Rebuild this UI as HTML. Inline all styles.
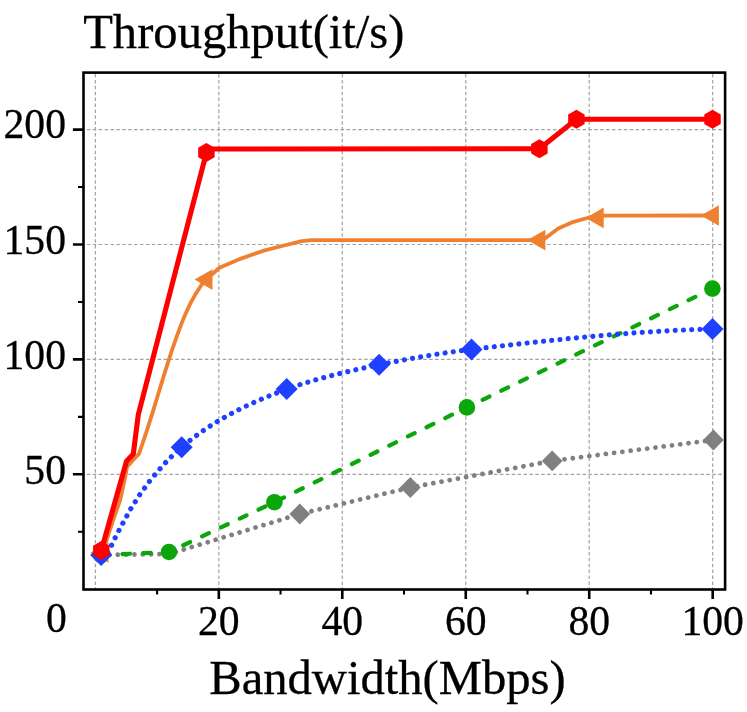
<!DOCTYPE html>
<html><head><meta charset="utf-8"><title>Throughput vs Bandwidth</title>
<style>html,body{margin:0;padding:0;background:#fff}svg{display:block;will-change:transform}text{font-family:"Liberation Serif",serif;fill:#000;stroke:#000;stroke-width:0.3px}.tk{font-size:41.67px}.lb{font-size:48.6px}</style></head>
<body>
<svg width="747" height="712" viewBox="0 0 747 712">
<rect x="0" y="0" width="747" height="712" fill="#fff"/>
<path d="M95.35 589.50V72.60M218.82 589.50V72.60M342.29 589.50V72.60M465.76 589.50V72.60M589.23 589.50V72.60M712.70 589.50V72.60" fill="none" stroke="#a2a2a2" stroke-width="1.2" stroke-dasharray="3.5 2.4" stroke-dashoffset="1.3"/>
<path d="M83.50 474.30H725.10M83.50 359.40H725.10M83.50 244.50H725.10M83.50 129.60H725.10" fill="none" stroke="#a2a2a2" stroke-width="1.2" stroke-dasharray="3.5 2.4" stroke-dashoffset="2.5"/>
<path d="M218.82 589.50v9.6M342.29 589.50v9.6M465.76 589.50v9.6M589.23 589.50v9.6M712.70 589.50v9.6M83.50 474.30h-10.6M83.50 359.40h-10.6M83.50 244.50h-10.6M83.50 129.60h-10.6" fill="none" stroke="#000" stroke-width="2.6"/>
<path d="M157.08 589.50v5M280.55 589.50v5M404.02 589.50v5M527.50 589.50v5M650.97 589.50v5M83.50 531.75h-5.5M83.50 416.85h-5.5M83.50 301.95h-5.5M83.50 187.05h-5.5" fill="none" stroke="#000" stroke-width="2.1"/>
<clipPath id="c"><rect x="83.5" y="72.6" width="641.6" height="516.9"/></clipPath>
<g clip-path="url(#c)">
<path d="M101.10 555.00L169.00 554.00L299.80 514.00L410.30 487.50L552.20 460.90L713.40 440.00" fill="none" stroke="#808080" stroke-width="4.8" stroke-linecap="round" stroke-dasharray="0.01 8.325"/>
<path d="M299.80 503.60L310.20 514.00L299.80 524.40L289.40 514.00Z" fill="#808080"/>
<path d="M410.30 477.10L420.70 487.50L410.30 497.90L399.90 487.50Z" fill="#808080"/>
<path d="M552.20 450.50L562.60 460.90L552.20 471.30L541.80 460.90Z" fill="#808080"/>
<path d="M713.40 429.60L723.80 440.00L713.40 450.40L703.00 440.00Z" fill="#808080"/>
<path d="M101.10 555.00L169.00 552.00L274.40 502.20L466.90 407.40L712.40 288.60" fill="none" stroke="#0aa60a" stroke-width="4.2" stroke-linecap="round" stroke-dasharray="7.5 13.3" stroke-dashoffset="-0.6"/>
<circle cx="101.10" cy="555.00" r="8.3" fill="#0aa60a"/>
<circle cx="169.00" cy="552.00" r="8.3" fill="#0aa60a"/>
<circle cx="274.40" cy="502.20" r="8.3" fill="#0aa60a"/>
<circle cx="466.90" cy="407.40" r="8.3" fill="#0aa60a"/>
<circle cx="712.40" cy="288.60" r="8.3" fill="#0aa60a"/>
<path d="M99.30 552.50L106.00 541.90L113.20 520.00L120.20 500.00L125.70 474.50L127.00 467.00L132.90 460.20L139.00 453.90L141.69 445.90L144.43 437.90L147.08 429.90L149.65 421.90L152.16 413.90L154.63 405.90L157.07 397.90L159.50 389.90L161.94 381.90L164.40 373.90L166.91 365.90L169.47 357.90L172.11 349.90L174.84 341.90L177.68 333.90L180.65 325.90L183.81 317.90L187.29 309.90L191.19 301.90L195.64 293.90L200.74 285.90L206.00 279.60L219.50 267.70L241.00 258.60L263.80 250.60L284.00 245.50L301.70 241.20L311.80 240.10L542.60 240.20L558.20 228.50L573.50 221.80L588.30 217.75L603.70 215.70L712.60 215.50" fill="none" stroke="#ee8030" stroke-width="3.8" stroke-linejoin="round"/>
<path d="M90.50 552.50L108.50 542.20L108.50 562.80Z" fill="#ee8030"/>
<path d="M194.50 279.60L212.50 269.30L212.50 289.90Z" fill="#ee8030"/>
<path d="M527.40 240.10L545.40 229.80L545.40 250.40Z" fill="#ee8030"/>
<path d="M585.70 217.90L603.70 207.60L603.70 228.20Z" fill="#ee8030"/>
<path d="M700.90 215.45L718.90 205.15L718.90 225.75Z" fill="#ee8030"/>
<path id="bluepath" d="M104.50 555.00L107.80 552.50L111.30 545.80L114.90 538.30L118.60 531.00L122.50 523.80L126.40 516.70L130.40 509.40L134.90 502.40L139.30 495.30L144.40 488.40L149.30 481.60L154.30 475.40L159.60 469.20L165.40 462.80L171.20 456.90L176.50 451.90L181.70 447.20L185.70 443.87L189.70 440.66L193.70 437.57L197.70 434.60L201.70 431.73L205.70 428.97L209.70 426.31L213.70 423.75L217.70 421.28L221.70 418.90L225.70 416.61L229.70 414.40L233.70 412.26L237.70 410.19L241.70 408.20L245.70 406.26L249.70 404.39L253.70 402.57L257.70 400.80L261.70 399.07L265.70 397.39L269.70 395.75L273.70 394.14L277.70 392.57L281.70 391.01L285.70 389.48L286.70 389.10L290.70 387.71L294.70 386.35L298.70 385.04L302.70 383.76L306.70 382.52L310.70 381.32L314.70 380.15L318.70 379.01L322.70 377.91L326.70 376.83L330.70 375.78L334.70 374.76L338.70 373.77L342.70 372.79L346.70 371.85L350.70 370.92L354.70 370.01L358.70 369.12L362.70 368.24L366.70 367.38L370.70 366.54L374.70 365.70L378.70 364.88L382.70 364.07L386.70 363.27L390.70 362.47L394.70 361.69L398.70 360.92L402.70 360.16L406.70 359.41L410.70 358.68L414.70 357.95L418.70 357.24L422.70 356.55L426.70 355.87L430.70 355.20L434.70 354.56L438.70 353.92L442.70 353.31L446.70 352.71L450.70 352.12L454.70 351.56L458.70 351.01L462.70 350.49L466.70 349.98L470.70 349.49L474.70 349.02L478.70 348.55L482.70 348.08L486.70 347.62L490.70 347.15L494.70 346.68L498.70 346.22L502.70 345.76L506.70 345.30L510.70 344.85L514.70 344.40L518.70 343.95L522.70 343.50L526.70 343.06L530.70 342.62L534.70 342.18L538.70 341.75L542.70 341.32L546.70 340.89L550.70 340.47L554.70 340.05L558.70 339.64L562.70 339.23L566.70 338.83L570.70 338.43L574.70 338.04L578.70 337.65L582.70 337.27L586.70 336.90L590.70 336.53L594.70 336.16L598.70 335.81L602.70 335.46L606.70 335.11L610.70 334.78L614.70 334.44L618.70 334.12L622.70 333.81L626.70 333.50L630.70 333.20L634.70 332.90L638.70 332.62L642.70 332.34L646.70 332.07L650.70 331.81L654.70 331.56L658.70 331.32L662.70 331.08L666.70 330.86L670.70 330.65L674.70 330.44L678.70 330.24L682.70 330.06L686.70 329.88L690.70 329.72L694.70 329.56L698.70 329.42L702.70 329.28L706.70 329.16L710.70 329.05L712.50 329.00" fill="none" stroke="#1f40ff" stroke-width="5.2" stroke-linecap="round" stroke-linejoin="round" stroke-dasharray="0.01 8.25" stroke-dashoffset="-4.1"/>
<path d="M101.10 544.00L112.10 555.00L101.10 566.00L90.10 555.00Z" fill="#1f40ff"/>
<path d="M181.70 436.20L192.70 447.20L181.70 458.20L170.70 447.20Z" fill="#1f40ff"/>
<path d="M286.70 378.10L297.70 389.10L286.70 400.10L275.70 389.10Z" fill="#1f40ff"/>
<path d="M379.10 353.80L390.10 364.80L379.10 375.80L368.10 364.80Z" fill="#1f40ff"/>
<path d="M471.50 338.40L482.50 349.40L471.50 360.40L460.50 349.40Z" fill="#1f40ff"/>
<path d="M712.50 318.00L723.50 329.00L712.50 340.00L701.50 329.00Z" fill="#1f40ff"/>
<path d="M101.30 550.50L126.50 461.20L133.30 453.90L138.30 414.60L206.40 152.60L212.50 149.00L539.40 148.80L576.40 119.20L712.50 119.20" fill="none" stroke="#ff0000" stroke-width="5.1" stroke-linejoin="round"/>
<path d="M101.30 541.00L109.53 545.75L109.53 555.25L101.30 560.00L93.07 555.25L93.07 545.75Z" fill="#ff0000"/>
<path d="M206.40 143.10L214.63 147.85L214.63 157.35L206.40 162.10L198.17 157.35L198.17 147.85Z" fill="#ff0000"/>
<path d="M539.40 139.30L547.63 144.05L547.63 153.55L539.40 158.30L531.17 153.55L531.17 144.05Z" fill="#ff0000"/>
<path d="M576.40 109.70L584.63 114.45L584.63 123.95L576.40 128.70L568.17 123.95L568.17 114.45Z" fill="#ff0000"/>
<path d="M712.50 109.70L720.73 114.45L720.73 123.95L712.50 128.70L704.27 123.95L704.27 114.45Z" fill="#ff0000"/>
</g>
<rect x="83.5" y="72.6" width="641.6" height="516.9" fill="none" stroke="#000" stroke-width="2.6"/>
<text x="218.82" y="635" text-anchor="middle" class="tk">20</text>
<text x="342.29" y="635" text-anchor="middle" class="tk">40</text>
<text x="465.76" y="635" text-anchor="middle" class="tk">60</text>
<text x="589.23" y="635" text-anchor="middle" class="tk">80</text>
<text x="712.70" y="635" text-anchor="middle" class="tk">100</text>
<text x="56.5" y="632" text-anchor="middle" class="tk">0</text>
<text x="66" y="483.50" text-anchor="end" class="tk">50</text>
<text x="66" y="368.60" text-anchor="end" class="tk">100</text>
<text x="66" y="253.70" text-anchor="end" class="tk">150</text>
<text x="66" y="137.50" text-anchor="end" class="tk">200</text>
<text x="83.2" y="47.5" class="lb">Throughput(it/s)</text>
<text x="209.3" y="693.6" class="lb">Bandwidth(Mbps)</text>
</svg>
</body></html>
